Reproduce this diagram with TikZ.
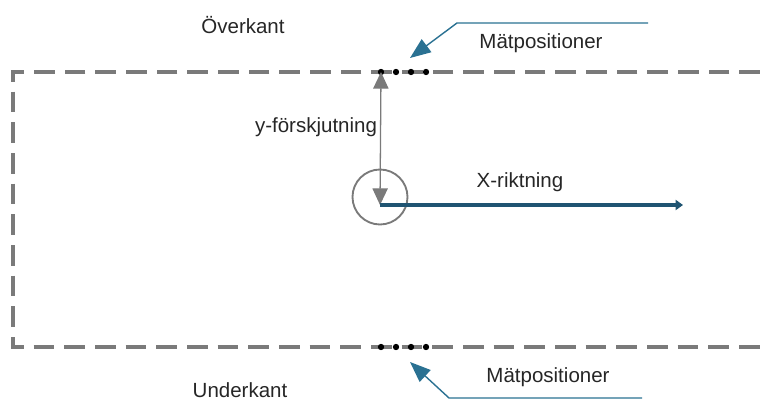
\documentclass[tikz,border=0pt]{standalone}
\usepackage{fontspec}
\setmainfont{Liberation Sans}
\usetikzlibrary{arrows.meta,positioning}
\definecolor{kantgra}{RGB}{122,122,122}
\definecolor{riktbla}{RGB}{31,84,114}
\definecolor{pilbla}{RGB}{42,113,146}

\tikzset{
  kant/.style={draw=kantgra,line width=2.8pt,dash pattern=on 0.62cm off 0.3cm},
  matpunkt/.style={circle,fill=black,inner sep=0pt,minimum size=0.19cm},
  etikett/.style={font=\fontsize{17.5}{20}\selectfont,inner sep=0pt,text=black!85},
  pekpil/.style={draw=pilbla,line width=1.2pt,-{Triangle[length=0.62cm,width=0.48cm]}}
}

\begin{document}
\begin{tikzpicture}[x=0.03cm,y=-0.03cm]
\useasboundingbox (0,0) rectangle (760,403);
% kanter
\draw[kant] (760,72) -- (13,72) -- (13,347) -- (760,347);
% matpositioner
\node[matpunkt] (o1) at (381,72) {};
\node[matpunkt] (o2) at (396,72) {};
\node[matpunkt] (o3) at (411,72) {};
\node[matpunkt] (o4) at (426,72) {};
\node[matpunkt] (u1) at (381,347) {};
\node[matpunkt] (u2) at (396,347) {};
\node[matpunkt] (u3) at (411,347) {};
\node[matpunkt] (u4) at (426,347) {};
% centrum
\coordinate (c) at (380,205);
\node[draw=kantgra,line width=1.6pt,circle,minimum size=1.65cm,inner sep=0pt] (ring) at (380,197) {};
\coordinate (xslut) at (683,205);
\draw[kantgra,line width=1.1pt,{Triangle[length=0.5cm,width=0.46cm]}-{Triangle[length=0.5cm,width=0.46cm]}] (o1.center) -- (c);
\draw[riktbla,line width=3.2pt,-{Triangle[length=0.22cm,width=0.3cm]}] (c) -- (xslut);
% etiketter
\node[etikett] (over) at (243,25) {Överkant};
\node[etikett] (under) at (240,390) {Underkant};
\node[etikett] (mo) at (541,43) {Mätpositioner};
\node[etikett] (mu) at (548,377) {Mätpositioner};
\node[etikett] (yf) at (316,127) {y-förskjutning};
\node[etikett] (xr) at (520,182) {X-riktning};
% pilar
\coordinate (ostart) at (648,23);
\coordinate (oknack) at (457,23);
\coordinate (omal) at (410,58);
\coordinate (ustart) at (642,398);
\coordinate (uknack) at (449,398);
\coordinate (umal) at (410,362);
\draw[pekpil] (ostart) -- (oknack) -- (omal);
\draw[pekpil] (ustart) -- (uknack) -- (umal);
\end{tikzpicture}
\end{document}
